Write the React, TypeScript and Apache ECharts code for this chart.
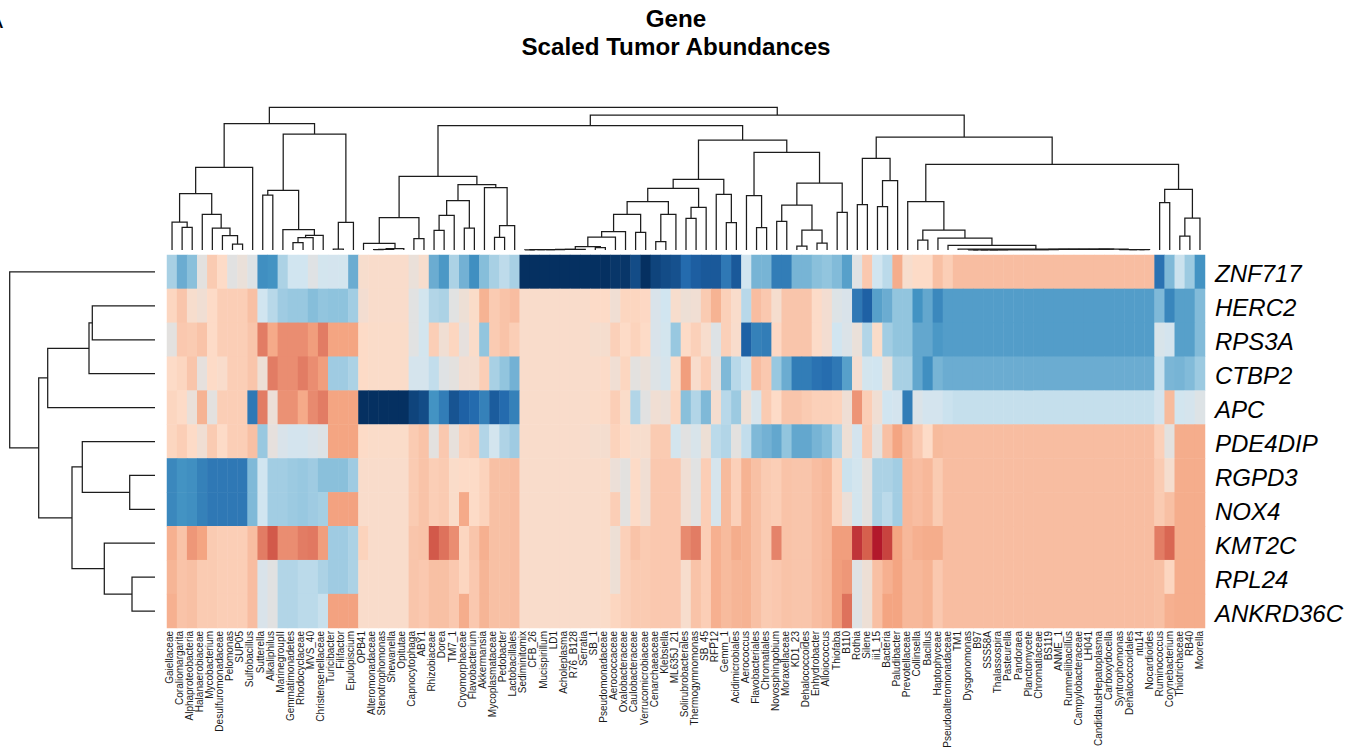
import React, { useEffect, useRef } from "react";
import * as echarts from "echarts";

const columns = ["Gaiellaceae","Coraliomargarita","Alphaproteobacteria","Halanaerobiaceae","Mycobacterium","Desulfuromonadaceae","Pelomonas","SUP05","Sulfobacillus","Sutterella","Alkaliphilus","MarinegroupII","Gemmatimonadetes","Rhodocyclaceae","MVS_40","Christensenellaceae","Turicibacter","Filifactor","Epulopiscium","OPB41","Alteromonadaceae","Stenotrophomonas","Shewanella","Opitutae","Capnocytophaga","ABY1","Rhizobiaceae","Dorea","TM7_1","Cryomorphaceae","Flavobacterium","Akkermansia","Mycoplasmataceae","Pedobacter","Lactobacillales","Sediminitomix","CFB_26","Mucispirillum","LD1","Acholeplasma","R76_B128","Serratia","SB_1","Pseudomonadaceae","Aerococcaceae","Oxalobacteraceae","Caulobacteraceae","Verrucomicrobiaceae","Cenarchaeaceae","Klebsiella","ML635J_21","Solirubrobacterales","Thermogymnomonas","SB_45","RFP12","Gemm_1","Acidimicrobiales","Aerococcus","Flavobacteriales","Chromatiales","Novosphingobium","Moraxellaceae","KD1_23","Dehalococcoides","Enhydrobacter","Alloiococcus","Thiofaba","B110","Rothia","Silene","iii1_15","Bacteria","Paludibacter","Prevotellaceae","Collinsella","Bacillus","Haptophyceae","Pseudoalteromonadaceae","TM1","Dysgonomonas","B97","SSS58A","Thalassospira","Pasteurella","Pandoraea","Planctomycete","Chromatiaceae","BS119","ANME_1","Rummeliibacillus","Campylobacteraceae","LH041","CandidatusHepatoplasma","Carboxydocella","Syntrophomonas","Dehalococcoidales","ntu14","Nocardioides","Ruminococcus","Corynebacterium","Thiotrichaceae","RB40","Moorella"];
const genes = ["ZNF717","HERC2","RPS3A","CTBP2","APC","PDE4DIP","RGPD3","NOX4","KMT2C","RPL24","ANKRD36C"];

const ZNF717 = [-.33,-.5,-.42,0,.26,.2,-.02,.05,-.07,-.62, -.6,-.32,-.2,-.2,-.05,-.18,-.17,-.18,-.5,.15, .17,.17,.17,.17,.05,.15,-.5,-.58,-.32,-.48, -.62,-.43,-.33,-.26,-.33,-1,-1,-1,-1,-1, -1,-1,-1,-1,-.98,-.98,-.9,-1,-.93,-.9, -.88,-.78,-.83,-.85,-.85,-.72,-.85,-.2,-.47,-.47, -.7,-.7,-.47,-.47,-.42,-.4,-.44,-.55,-.05,.27, -.2,-.27,.37,.15,.2,.2,.3,.25,.31,.31, .31,.31,.31,.31,.31,.31,.31,.31,.31,.31, .31,.31,.31,.31,.31,.31,.31,.31,-.75,-.45, -.22,-.37,-.6];
const HERC2 = [.22,.28,.15,.1,.2,.25,.25,.25,.3,-.2, -.28,-.36,-.38,-.38,-.43,-.4,-.41,-.41,-.35,.12, .17,.17,.17,.17,-.03,-.18,-.3,-.32,-.03,.08, .18,.35,.26,.29,.31,.17,.17,.17,.17,.17, .17,.17,.19,.2,.1,.22,.22,.21,-.12,-.2, .15,.08,.1,.26,.35,.24,.17,-.28,.31,.27, .14,.28,.28,.28,.19,.12,-.08,-.12,-.72,-.82, -.55,-.5,-.4,-.4,-.6,-.52,-.65,-.56,-.56,-.56, -.56,-.56,-.56,-.56,-.56,-.56,-.56,-.56,-.56,-.56, -.56,-.56,-.56,-.56,-.56,-.56,-.56,-.56,-.45,-.66, -.55,-.55,-.44];
const RPS3A = [0,.27,.26,.29,.2,.25,.25,.25,.28,.52, .38,.47,.47,.47,.42,.52,.4,.4,.4,.2, .18,.18,.18,.18,-.03,-.18,.25,.1,.22,.02, .18,-.4,.26,.29,.25,.17,.17,.17,.17,.17, .17,.17,.14,.14,.24,.2,.23,.2,-.12,-.18, -.38,.2,.24,.15,-.07,.24,.16,-.82,-.68,-.7, .21,.28,.28,.28,.19,.12,-.2,-.1,.05,-.3, .18,-.35,-.4,-.4,-.52,-.52,-.58,-.56,-.56,-.56, -.56,-.56,-.56,-.56,-.56,-.56,-.56,-.56,-.56,-.56, -.56,-.56,-.56,-.56,-.56,-.56,-.56,-.56,-.13,-.17, -.55,-.55,-.44];
const CTBP2 = [.2,.22,.28,.02,.2,.17,.25,.25,.28,.08, .52,.47,.47,.52,.47,.42,-.36,-.36,-.32,.2, .18,.18,.18,.18,-.16,-.16,-.25,-.05,0,.12, .13,.25,-.33,-.4,-.48,.17,.17,.17,.17,.17, .17,.17,.17,.19,.1,.22,0,.05,-.08,-.15, .18,.42,.16,.25,.02,-.45,-.28,-.22,.31,.27, -.38,-.5,-.7,-.7,-.75,-.77,-.72,-.55,.12,-.18, -.2,.03,-.33,-.33,-.52,-.62,-.47,-.5,-.5,-.5, -.5,-.5,-.5,-.5,-.5,-.5,-.5,-.5,-.5,-.5, -.5,-.5,-.5,-.5,-.5,-.5,-.5,-.5,-.22,-.46, -.47,-.44,-.37];
const APC = [.22,.2,.05,.35,0,.25,.25,.25,-.72,.52, .07,.46,.46,.38,.48,.52,.4,.4,.4,-1, -1,-1,-1,-1,-.93,-.9,-.6,-.7,-.87,-.82, -.78,-.68,-.84,-.78,-.68,.17,.17,.17,.17,.17, .17,.17,.18,.19,.25,.18,-.3,-.02,.1,.07, .22,-.42,-.3,-.45,.13,-.28,-.37,.08,-.15,.26, .2,.28,.28,.26,.24,.24,.23,.09,.45,.25, .1,-.2,-.17,-.7,-.1,-.17,-.17,-.22,-.24,-.24, -.24,-.24,-.24,-.24,-.24,-.24,-.24,-.24,-.24,-.24, -.24,-.24,-.24,-.24,-.24,-.24,-.24,-.24,-.17,.32, -.19,-.16,-.08];
const PDE4DIP = [.22,.25,.2,.1,.26,.2,.25,.25,.3,-.38, .02,-.12,-.17,-.17,-.12,-.07,.4,.4,.4,.2, .18,.18,.18,.18,.26,.29,0,.27,.03,.24, .26,-.3,-.18,-.31,-.36,.17,.17,.17,.17,.17, .17,.16,.14,.13,.23,.2,.15,.15,.26,.26, -.18,-.02,-.13,.08,-.27,-.3,0,-.25,-.45,-.48, -.52,-.4,-.52,-.52,-.47,-.43,-.3,.08,-.17,.26, 0,.3,.4,.33,.27,.2,.32,.31,.31,.31, .31,.31,.31,.31,.31,.31,.31,.31,.31,.31, .31,.31,.31,.31,.31,.31,.31,.31,.24,0, .37,.37,.37];
const RGPD3 = [-.65,-.6,-.62,-.68,-.72,-.72,-.72,-.72,-.45,-.2, -.35,-.35,-.37,-.38,-.36,-.42,-.42,-.42,-.36,.17, .17,.17,.17,.17,.26,.29,.25,.26,.18,.2, .2,.23,.3,.3,.31,.17,.17,.17,.17,.17, .17,.17,.17,.18,.07,0,.2,.1,.27,.27, .27,.1,-.03,.25,-.15,.32,.24,.35,.3,.26, .25,.29,.28,.28,.31,.33,.23,-.22,-.18,0, -.32,-.32,-.35,.33,.31,.33,.26,.31,.31,.31, .31,.31,.31,.31,.31,.31,.31,.31,.31,.31, .31,.31,.31,.31,.31,.31,.31,.31,.26,.14, .37,.37,.37];
const NOX4 = [-.65,-.6,-.62,-.68,-.72,-.72,-.72,-.72,-.45,-.2, -.35,-.35,-.37,-.38,-.36,-.34,.41,.41,.41,.17, .17,.17,.17,.17,.26,.29,.25,.26,.18,.38, .2,.23,.3,.3,.31,.17,.17,.17,.17,.17, .17,.17,.17,.18,.25,0,.2,.1,.27,.27, .27,.1,-.03,.25,-.15,.32,.24,.35,.3,.26, .25,.29,.28,.28,.31,.33,.23,.06,-.18,0, -.32,-.27,-.35,.33,.31,.33,.26,.31,.31,.31, .31,.31,.31,.31,.31,.31,.31,.31,.31,.31, .31,.31,.31,.31,.31,.31,.31,.31,.26,.3, .37,.37,.37];
const KMT2C = [.36,.29,.44,.4,.26,.25,.25,.25,.31,.52, .62,.47,.47,.52,.53,.42,-.36,-.36,-.32,.23, .17,.17,.17,.17,.28,.29,.62,.55,.47,.22, .28,.36,.3,.3,.31,.17,.17,.17,.17,.17, .17,.17,.17,.18,.08,.24,.29,.26,.27,.27, .27,.48,.52,.25,.36,.32,.37,.35,.3,.26, .5,.29,.28,.28,.31,.33,.42,.42,.72,.6, .8,.68,.4,.33,.36,.37,.37,.31,.31,.31, .31,.31,.31,.31,.31,.31,.31,.31,.31,.31, .31,.31,.31,.31,.31,.31,.31,.31,.52,.58, .37,.37,.37];
const RPL24 = [.34,.29,.3,.26,.26,.25,.25,.25,.31,-.12, -.02,-.3,-.3,-.27,-.27,-.32,-.36,-.36,-.32,.17, .17,.17,.17,.17,.28,.27,.3,.3,.27,.22, .27,.34,.3,.3,.31,.17,.17,.17,.17,.17, .17,.17,.17,.18,.08,.24,.26,.26,.27,.27, .27,.15,.29,.25,.36,.32,.34,.35,.3,.26, .27,.29,.28,.28,.31,.33,.42,.44,-.05,.08, .3,.36,.4,.33,.33,.35,.27,.31,.31,.31, .31,.31,.31,.31,.31,.31,.31,.31,.31,.31, .31,.31,.31,.31,.31,.31,.31,.31,.3,.22, .37,.37,.37];
const ANKRD36C = [.36,.29,.3,.26,.26,.25,.25,.25,.31,-.12, -.02,-.3,-.3,-.27,-.27,-.23,.41,.41,.41,.17, .17,.17,.17,.17,.28,.27,.3,.3,.27,.37, .27,.34,.3,.3,.31,.17,.17,.17,.17,.17, .17,.17,.17,.18,.22,.24,.26,.26,.27,.27, .27,.15,.29,.25,.36,.32,.34,.35,.3,.26, .27,.29,.28,.28,.31,.33,.42,.55,-.05,.08, .3,.4,.4,.33,.33,.35,.27,.31,.31,.31, .31,.31,.31,.31,.31,.31,.31,.31,.31,.31, .31,.31,.31,.31,.31,.31,.31,.31,.3,.36, .37,.37,.37];
const matrix = [ZNF717, HERC2, RPS3A, CTBP2, APC, PDE4DIP, RGPD3, NOX4, KMT2C, RPL24, ANKRD36C];

const palette = ["#053061","#134c87","#2166ac","#327db7","#4393c3","#6bacd1","#92c5de","#b2d5e7","#d1e5f0","#dbe3e8","#e3e1df","#f0ded3","#fddbc7","#f8c0a4","#f4a582","#e5836a","#d6604d","#c43c3c","#b2182b","#8c0c25","#67001f"];

// Dendrogram merges, like a linkage matrix: [child, child, height]. A positive child is a leaf
// number (1-based); a negative child -k is the k-th merge of the list.
const columnLinkage: [number, number, number][] = [
  [2,3,22.7],[1,-1,28],[7,8,6],[6,-3,14.3],[5,-4,22],[4,-5,35.7],[-2,-6,56.3],[-7,9,82.7],[10,11,55],[13,14,7.3],
  [-10,15,12.3],[-11,16,14.7],[12,-12,20.3],[-9,-13,59.7],[17,18,1],[-15,19,27.7],[-14,-16,116],[-8,-17,126.3],[21,22,.4],[-19,23,.7],
  [-20,24,1.3],[20,-21,6.7],[25,26,11.3],[-22,-23,32.3],[27,28,19.7],[-25,29,34.7],[30,31,22],[-26,-27,49.3],[33,34,12.7],[-29,35,24.3],
  [32,-30,62.3],[-28,-31,65.3],[-24,-32,73.7],[36,37,.2],[-34,38,.3],[-35,39,.4],[-36,40,.5],[-37,41,.6],[-38,42,.7],[43,44,2.3],
  [-39,-40,3.3],[-41,45,13],[-42,46,18.3],[47,48,17.7],[-43,-44,35.7],[49,50,8.3],[-46,51,35.7],[-45,-47,48.3],[52,53,31.7],[-49,54,42.7],
  [-48,-50,61.7],[56,57,27.3],[55,-52,55.7],[-51,-53,70.7],[59,60,22.3],[58,-55,54.3],[61,62,28.7],[63,64,4],[65,66,7],[-58,-59,20],
  [-57,-60,45],[67,68,37.7],[-61,-62,67],[-56,-63,97.7],[-54,-64,110],[-33,-65,124.3],[69,70,45.3],[71,72,43.3],[-68,73,69.3],[-67,-69,91.7],
  [80,81,.1],[-71,82,.15],[-72,83,.2],[-73,84,.25],[-74,85,.3],[-75,86,.35],[-76,87,.4],[-77,88,.45],[-78,89,.5],[-79,90,.55],
  [-80,91,.6],[-81,92,.65],[-82,93,.7],[-83,94,.75],[97,98,.3],[96,-85,.4],[95,-86,.5],[-84,-87,.85],[79,-88,1],[78,-89,4.7],
  [77,-90,12],[75,76,10],[-92,-91,20],[74,-93,48.3],[99,100,47.3],[101,102,14],[-96,103,32],[-95,-97,60.7],[-94,-98,85.7],[-70,-99,113],
  [-66,-100,135],[-18,-101,142.7],
];
const rowLinkage: [number, number, number][] = [
  [2,3,62.7],[-1,4,66],[-2,5,107.3],[7,8,25.3],[6,-4,72.7],[10,11,23],[9,-6,50.7],[-5,-7,83],[-3,-8,116.3],[1,-9,145.3],
];

function bracketsOf(linkage: [number, number, number][]) {
  const centre: number[] = [];
  const height: number[] = [];
  const pos = (c: number) => (c > 0 ? c - 0.5 : centre[-c - 1]);
  const top = (c: number) => (c > 0 ? 0 : height[-c - 1]);
  return linkage.map(([a, b, h], i) => {
    const item = [pos(a), top(a), pos(b), top(b), h];
    centre[i] = (item[0] + item[2]) / 2;
    height[i] = h;
    return item;
  });
}

const LINE = "#1c1c1c";
const heatLeft = 167, heatTop = 255, heatWidth = 1038, heatHeight = 373;

function App() {
  const ref = useRef<HTMLDivElement>(null);
  useEffect(() => {
    const chart = echarts.init(ref.current!, undefined, { renderer: "svg" });
    const cells: number[][] = [];
    matrix.forEach((row, r) => row.forEach((v, c) => cells.push([c, r, v])));
    const horizontal = (_: any, api: any) => {
      const p = (x: number, y: number) => api.coord([x, y]);
      const [x1, h1, x2, h2, h] = [0, 1, 2, 3, 4].map((i) => api.value(i));
      return { type: "polyline", silent: true, shape: { points: [p(x1, h1), p(x1, h), p(x2, h), p(x2, h2)] }, style: { stroke: LINE, lineWidth: 1.25, fill: null } };
    };
    const vertical = (_: any, api: any) => {
      const p = (y: number, d: number) => api.coord([d, y]);
      const [y1, d1, y2, d2, d] = [0, 1, 2, 3, 4].map((i) => api.value(i));
      return { type: "polyline", silent: true, shape: { points: [p(y1, d1), p(y1, d), p(y2, d), p(y2, d2)] }, style: { stroke: LINE, lineWidth: 1.25, fill: null } };
    };
    const hidden = { show: false };
    chart.setOption({
      animation: false,
      backgroundColor: "#ffffff",
      textStyle: { fontFamily: "Liberation Sans" },
      title: {
        text: "Gene\nScaled Tumor Abundances",
        left: 671, top: -1, textAlign: "center",
        textStyle: { fontFamily: "Liberation Sans", fontWeight: "bold", fontSize: 24.2, lineHeight: 28, color: "#000" },
      },
      graphic: [{ type: "text", x: -13, y: 7, style: { text: "A", fontFamily: "Liberation Sans", fontSize: 24, fill: "#000" } }],
      tooltip: { show: false },
      visualMap: { show: false, seriesIndex: 0, min: -1, max: 1, inRange: { color: palette } },
      grid: [
        { left: heatLeft, top: heatTop, width: heatWidth, height: heatHeight },
        { left: 164, top: heatTop + 2, width: 1041, height: heatHeight },
        { left: heatLeft, top: 100, width: heatWidth, height: 150 },
        { left: 5, top: heatTop, width: 150, height: heatHeight },
      ],
      xAxis: [
        { gridIndex: 0, type: "category", data: columns, axisLine: hidden, axisTick: hidden, axisLabel: hidden },
        { gridIndex: 1, type: "category", data: columns, axisLine: hidden, axisTick: hidden,
          axisLabel: { interval: 0, rotate: 90, margin: 1, fontSize: 10, color: "#1a1a1a", fontFamily: "Liberation Sans", hideOverlap: false } },
        { gridIndex: 2, type: "value", min: 0, max: 103, axisLine: hidden, axisTick: hidden, axisLabel: hidden, splitLine: hidden },
        { gridIndex: 3, type: "value", min: 0, max: 150, inverse: true, axisLine: hidden, axisTick: hidden, axisLabel: hidden, splitLine: hidden },
      ],
      yAxis: [
        { gridIndex: 0, type: "category", data: genes, inverse: true, axisLine: hidden, axisTick: hidden, axisLabel: hidden },
        { gridIndex: 1, type: "category", data: genes, inverse: true, position: "right", axisLine: hidden, axisTick: hidden,
          axisLabel: { interval: 0, margin: 10, fontSize: 24, fontStyle: "italic", color: "#000", fontFamily: "Liberation Sans" } },
        { gridIndex: 2, type: "value", min: 0, max: 150, axisLine: hidden, axisTick: hidden, axisLabel: hidden, splitLine: hidden },
        { gridIndex: 3, type: "value", min: 0, max: 11, inverse: true, axisLine: hidden, axisTick: hidden, axisLabel: hidden, splitLine: hidden },
      ],
      series: [
        { type: "heatmap", xAxisIndex: 0, yAxisIndex: 0, data: cells, progressive: 0, itemStyle: { borderWidth: 0 }, emphasis: { disabled: true } },
        { type: "custom", xAxisIndex: 2, yAxisIndex: 2, data: bracketsOf(columnLinkage), renderItem: horizontal, clip: false, encode: { x: [0, 2], y: [1, 3, 4] } },
        { type: "custom", xAxisIndex: 3, yAxisIndex: 3, data: bracketsOf(rowLinkage), renderItem: vertical, clip: false, encode: { y: [0, 2], x: [1, 3, 4] } },
      ],
    });
    return () => chart.dispose();
  }, []);
  return <div ref={ref} style={{ position: "absolute", left: 0, top: 0, width: 1359, height: 752 }} />;
}

export default App;
